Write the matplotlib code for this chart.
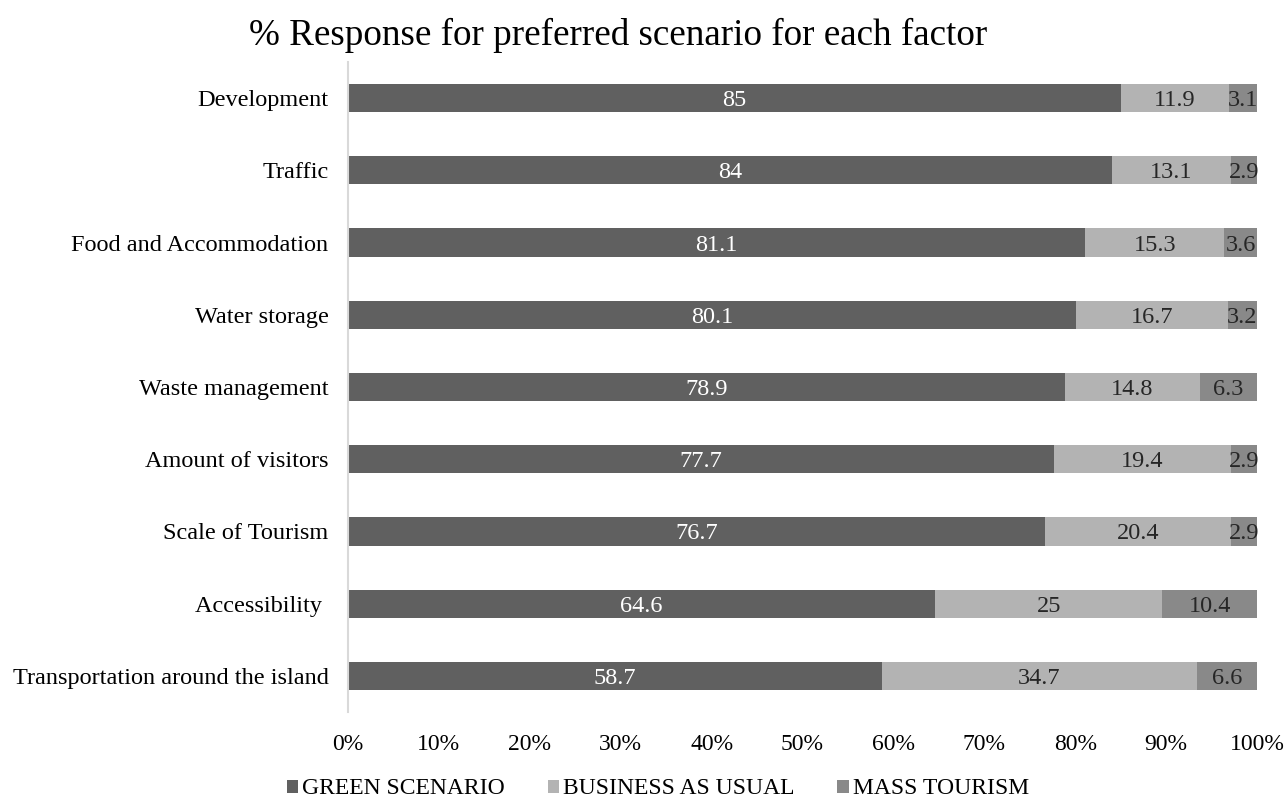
import matplotlib.pyplot as plt
import numpy as np

plt.rcParams['font.family'] = ['Liberation Serif', 'DejaVu Serif']

factors = ["Development", "Traffic", "Food and Accommodation", "Water storage",
           "Waste management", "Amount of visitors", "Scale of Tourism",
           "Accessibility ", "Transportation around the island"]
green = [85, 84, 81.1, 80.1, 78.9, 77.7, 76.7, 64.6, 58.7]
business = [11.9, 13.1, 15.3, 16.7, 14.8, 19.4, 20.4, 25, 34.7]
mass = [3.1, 2.9, 3.6, 3.2, 6.3, 2.9, 2.9, 10.4, 6.6]
series_names = ["GREEN SCENARIO", "BUSINESS AS USUAL", "MASS TOURISM"]
colores = ["#606060", "#b3b3b3", "#898989"]
colores_texto = ["white", "#262626", "#262626"]
x_ticks = [0, 10, 20, 30, 40, 50, 60, 70, 80, 90, 100]

fig = plt.figure(figsize=(12.88, 8.01), dpi=100)
ax = fig.add_axes([348/1288, 1-712/801, (1257-348)/1288, 650/801])

y = np.arange(len(factors))
left = np.zeros(len(factors))
for nombre, vals, c, tc in zip(series_names, [green, business, mass], colores, colores_texto):
    vals = np.array(vals, dtype=float)
    ax.barh(y, vals, left=left, height=0.39, color=c, label=nombre)
    for yi, l, v in zip(y, left, vals):
        ax.text(l + v / 2, yi, f"{v:g}", ha="center", va="center_baseline",
                color=tc, fontsize=17.5)
    left += vals

ax.set_yticks(y)
ax.set_yticklabels(factors, fontsize=17.5)
ax.set_ylim(len(factors) - 0.5, -0.5)
ax.set_xlim(0, 100)
ax.set_xticks(x_ticks)
ax.set_xticklabels([f"{t}%" for t in x_ticks], fontsize=17)
ax.tick_params(axis="both", length=0)
ax.tick_params(axis="x", pad=16)
ax.tick_params(axis="y", pad=14)
for s in ["top", "right", "bottom"]:
    ax.spines[s].set_visible(False)
ax.spines["left"].set_color("#d9d9d9")
ax.spines["left"].set_linewidth(1.5)

fig.text(618/1288, 1-35/801, "% Response for preferred scenario for each factor",
         ha="center", va="center", fontsize=26.7)

fig.legend(loc="center", bbox_to_anchor=(658/1288, 1-789/801), ncol=3, frameon=False,
           fontsize=17, handlelength=0.47, handleheight=0.47, handletextpad=0.2,
           columnspacing=1.8)

plt.savefig("out.png", dpi=100)
